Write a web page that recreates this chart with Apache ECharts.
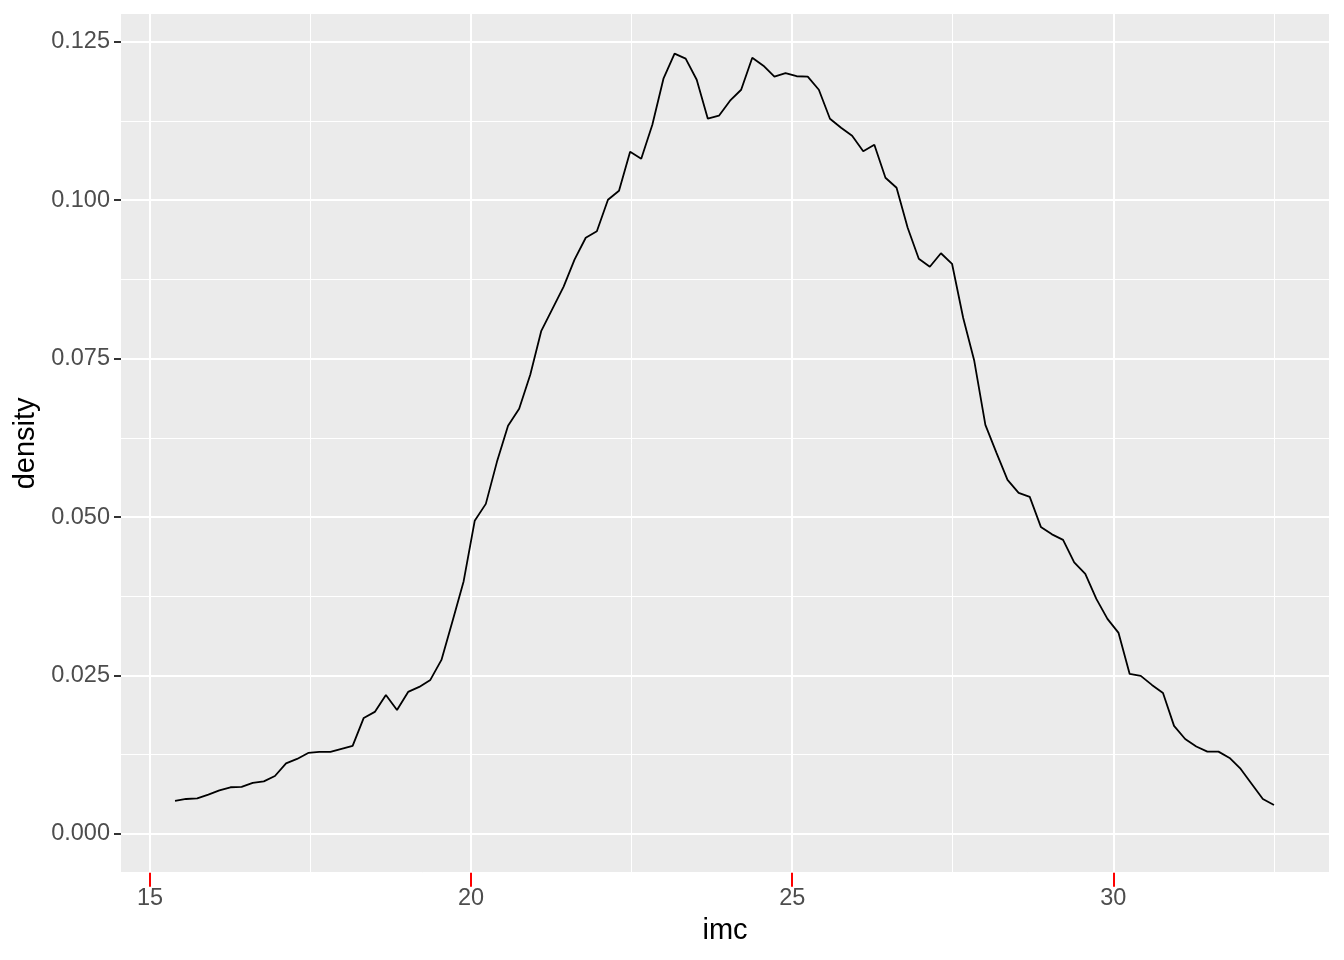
<!DOCTYPE html>
<html>
<head>
<meta charset="utf-8">
<script src="https://cdn.jsdelivr.net/npm/echarts@6/dist/echarts.min.js"></script>
<style>
html,body{margin:0;padding:0;background:#fff;}
#chart{width:1344px;height:960px;}
</style>
</head>
<body>
<div id="chart"></div>
<script>
// imc values (x) at which the density was evaluated
const imcValues = [
15.389,15.562,15.735,15.908,16.080,16.253,16.426,16.599,16.772,16.945,
17.118,17.290,17.463,17.636,17.809,17.982,18.155,18.328,18.500,18.673,
18.846,19.019,19.192,19.365,19.538,19.711,19.883,20.056,20.229,20.402,
20.575,20.748,20.921,21.093,21.266,21.439,21.612,21.785,21.958,22.131,
22.303,22.476,22.649,22.822,22.995,23.168,23.341,23.513,23.686,23.859,
24.032,24.205,24.378,24.551,24.723,24.896,25.069,25.242,25.415,25.588,
25.761,25.933,26.106,26.279,26.452,26.625,26.798,26.971,27.143,27.316,
27.489,27.662,27.835,28.008,28.181,28.353,28.526,28.699,28.872,29.045,
29.218,29.391,29.564,29.736,29.909,30.082,30.255,30.428,30.601,30.774,
30.946,31.119,31.292,31.465,31.638,31.811,31.984,32.156,32.329,32.502
];
// density values
const densityValues = [
0.00521,0.00552,0.00563,0.00622,0.00687,0.00737,0.00742,0.00805,0.00830,0.00915,
0.01113,0.01184,0.01278,0.01294,0.01294,0.01342,0.01389,0.01831,0.01926,0.02194,
0.01957,0.02241,0.02320,0.02431,0.02746,0.03362,0.03985,0.04940,0.05208,0.05871,
0.06439,0.06708,0.07244,0.07939,0.08286,0.08633,0.09067,0.09407,0.09509,0.10006,
0.10148,0.10764,0.10653,0.11190,0.11916,0.12311,0.12232,0.11900,0.11285,0.11332,
0.11569,0.11742,0.12247,0.12121,0.11948,0.12003,0.11955,0.11948,0.11742,0.11285,
0.11143,0.11016,0.10772,0.10874,0.10354,0.10196,0.09564,0.09075,0.08949,0.09162,
0.08996,0.08144,0.07465,0.06455,0.06013,0.05587,0.05382,0.05319,0.04845,0.04727,
0.04640,0.04285,0.04104,0.03709,0.03393,0.03172,0.02525,0.02494,0.02352,0.02225,
0.01705,0.01499,0.01381,0.01299,0.01299,0.01199,0.01026,0.00789,0.00552,0.00458
];
const xTickValues = [15, 20, 25, 30];
const xMinorValues = [17.5, 22.5, 27.5, 32.5];
const yTickValues = [0, 0.025, 0.05, 0.075, 0.1, 0.125];
const yMinorValues = [0.0125, 0.0375, 0.0625, 0.0875, 0.1125];
const xTitle = 'imc';
const yTitle = 'density';

const X_MIN = 14.548, X_MAX = 33.359;
const Y_MIN = -0.00611, Y_MAX = 0.12937;

const seriesData = imcValues.map((x, i) => [x, densityValues[i]]);

const FONT = '"Liberation Sans", Arial, sans-serif';
const chart = echarts.init(document.getElementById('chart'), null, {renderer: 'canvas'});

chart.setOption({
  animation: false,
  backgroundColor: '#ffffff',
  grid: {
    left: 121, right: 15, top: 14, bottom: 87.3,
    show: true, backgroundColor: '#EBEBEB', borderWidth: 0
  },
  graphic: [{
    type: 'text', x: 725, y: 931, silent: true,
    style: {text: xTitle, fill: '#000000', font: '29px "Liberation Sans", Arial, sans-serif',
            align: 'center', verticalAlign: 'middle'}
  }],
  xAxis: [
    {
      type: 'value', min: X_MIN, max: X_MAX, position: 'bottom',
      axisLine: {show: true, onZero: false, lineStyle: {color: '#FFFFFF', width: 1}},
      axisTick: {show: true, length: 14, customValues: xTickValues,
                 lineStyle: {color: '#FF0000', width: 2}},
      axisLabel: {show: true, customValues: xTickValues, margin: 14,
                  color: '#4D4D4D', fontSize: 23.5, fontFamily: FONT,
                  formatter: v => String(v)},
      splitLine: {show: true, lineStyle: {color: '#FFFFFF', width: 2}}
    },
    {
      type: 'value', min: X_MIN, max: X_MAX, position: 'top',
      axisLine: {show: false, onZero: false},
      axisTick: {show: false, customValues: xMinorValues},
      axisLabel: {show: false, customValues: xMinorValues},
      splitLine: {show: true, lineStyle: {color: '#FFFFFF', width: 1}}
    }
  ],
  yAxis: [
    {
      type: 'value', min: Y_MIN, max: Y_MAX, position: 'left',
      name: yTitle, nameLocation: 'middle', nameGap: 75, nameRotate: 90,
      nameTextStyle: {color: '#000000', fontSize: 29, fontFamily: FONT},
      axisLine: {show: false, onZero: false},
      axisTick: {show: true, length: 7, customValues: yTickValues,
                 lineStyle: {color: '#333333', width: 2}},
      axisLabel: {show: true, customValues: yTickValues, margin: 11,
                  color: '#4D4D4D', fontSize: 23.5, fontFamily: FONT,
                  formatter: v => v.toFixed(3)},
      splitLine: {show: true, lineStyle: {color: '#FFFFFF', width: 2}}
    },
    {
      type: 'value', min: Y_MIN, max: Y_MAX, position: 'right',
      axisLine: {show: false, onZero: false},
      axisTick: {show: false, customValues: yMinorValues},
      axisLabel: {show: false, customValues: yMinorValues},
      splitLine: {show: true, lineStyle: {color: '#FFFFFF', width: 1}}
    }
  ],
  series: [{
    type: 'line',
    xAxisIndex: 0, yAxisIndex: 0,
    data: seriesData,
    showSymbol: false, symbol: 'none', smooth: false,
    lineStyle: {color: '#000000', width: 1.8},
    z: 10
  }]
});
</script>
</body>
</html>
